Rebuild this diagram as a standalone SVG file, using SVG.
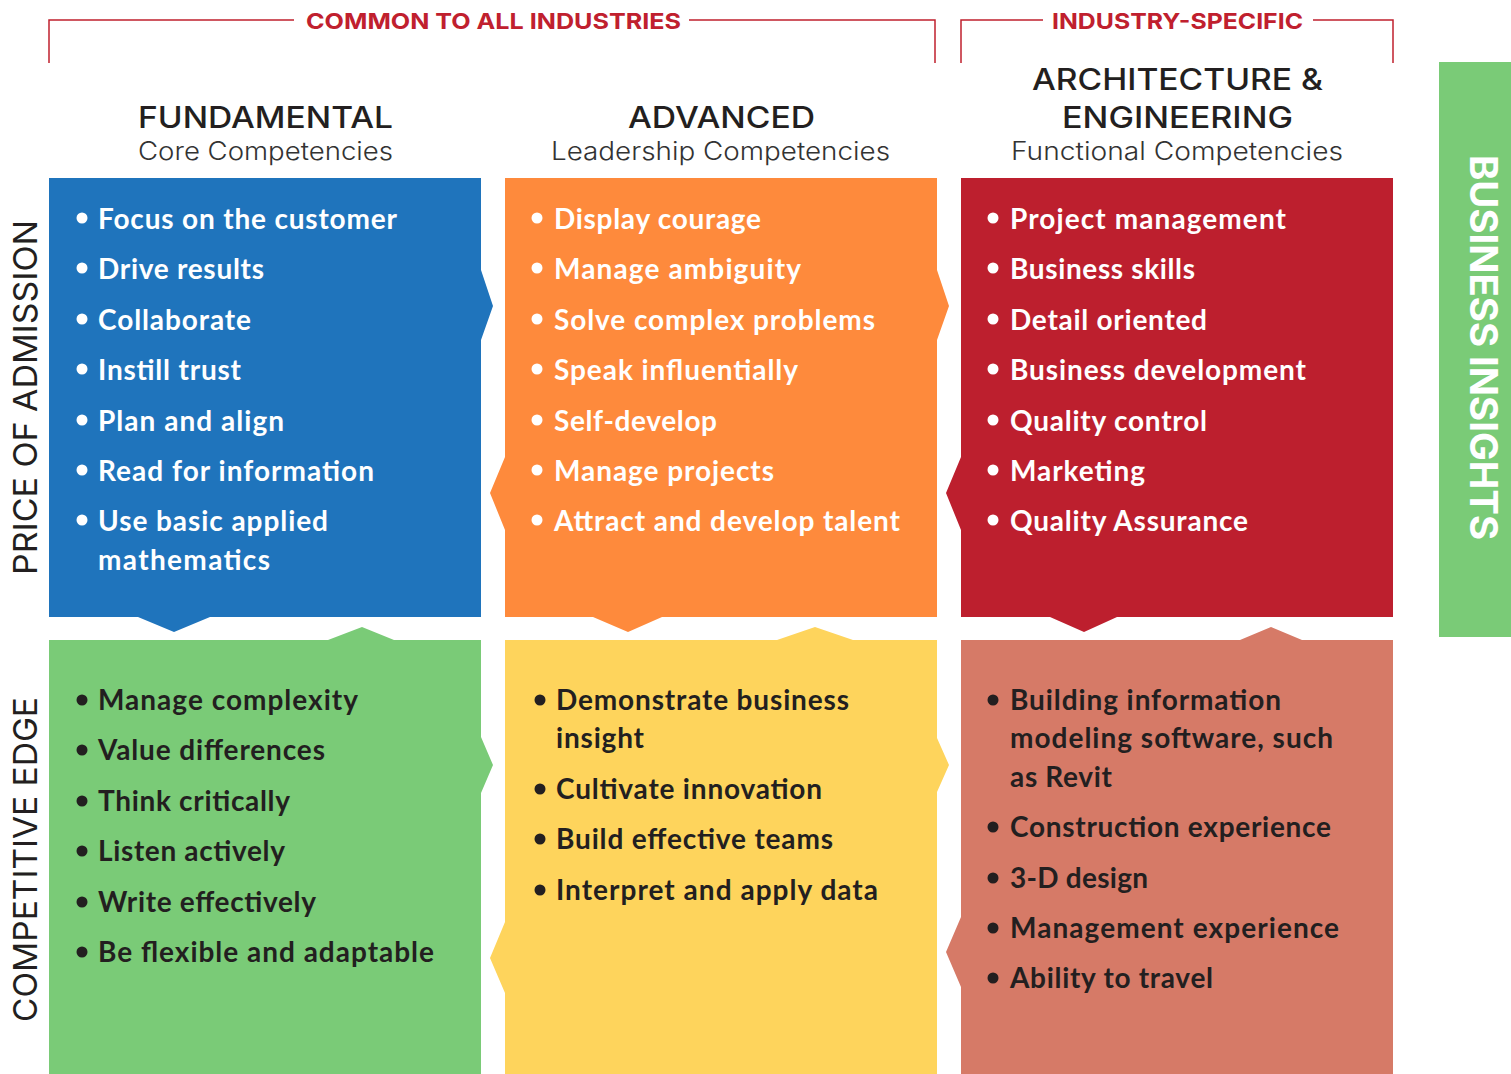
<svg xmlns="http://www.w3.org/2000/svg" width="1511" height="1074" viewBox="0 0 1511 1074">
<style>
.br{fill:none;stroke:#c0202e;stroke-width:1.5}
.brt{font-family:Inter,"Liberation Sans",sans-serif;font-weight:700;font-size:22px;fill:#c0202e}
.h{font-family:Inter,"Liberation Sans",sans-serif;font-weight:500;font-size:30px;fill:#231f20;text-anchor:middle}
.s{font-family:Inter,"Liberation Sans",sans-serif;font-weight:300;font-size:25px;fill:#333333;text-anchor:middle}
.side{font-family:Inter,"Liberation Sans",sans-serif;font-weight:400;font-size:33px;fill:#231f20;text-anchor:middle}
.bi{font-family:Inter,"Liberation Sans",sans-serif;font-weight:700;font-size:38px;fill:#ffffff;text-anchor:middle}
.t{font-family:Lato,"Open Sans",sans-serif;font-weight:700;font-size:28px}
.w{fill:#ffffff}
.d{fill:#231f20}
</style>
<g id="brackets">
<path class="br" d="M49,63 V20 H294 M689,20 H935 V63"/>
<path class="br" d="M961,63 V20 H1043 M1313,20 H1393 V63"/>
<text class="brt" x="306" y="29" textLength="375" lengthAdjust="spacingAndGlyphs">COMMON TO ALL INDUSTRIES</text>
<text class="brt" x="1052" y="29" textLength="251" lengthAdjust="spacingAndGlyphs">INDUSTRY-SPECIFIC</text>
</g>
<g id="headers">
<text class="h" x="265.5" y="128" textLength="255" lengthAdjust="spacingAndGlyphs">FUNDAMENTAL</text>
<text class="s" x="265.5" y="160" textLength="255" lengthAdjust="spacingAndGlyphs">Core Competencies</text>
<text class="h" x="721.5" y="128" textLength="187" lengthAdjust="spacingAndGlyphs">ADVANCED</text>
<text class="s" x="720.5" y="160" textLength="339" lengthAdjust="spacingAndGlyphs">Leadership Competencies</text>
<text class="h" x="1177.5" y="90" textLength="291" lengthAdjust="spacingAndGlyphs">ARCHITECTURE &amp;</text>
<text class="h" x="1177.5" y="128" textLength="231" lengthAdjust="spacingAndGlyphs">ENGINEERING</text>
<text class="s" x="1177" y="160" textLength="332" lengthAdjust="spacingAndGlyphs">Functional Competencies</text>
</g>
<g id="side-labels">
<text class="side" transform="translate(37,397.5) rotate(-90)" textLength="355" lengthAdjust="spacingAndGlyphs">PRICE OF ADMISSION</text>
<text class="side" transform="translate(37,859.5) rotate(-90)" textLength="325" lengthAdjust="spacingAndGlyphs">COMPETITIVE EDGE</text>
</g>
<g id="business-insights">
<rect x="1439" y="62" width="72" height="575" fill="#7acb77"/>
<text class="bi" transform="translate(1470,347.5) rotate(90)" textLength="385" lengthAdjust="spacingAndGlyphs">BUSINESS INSIGHTS</text>
</g>
<g id="fundamental-core">
<path fill="#1f74bc" d="M49,178 H481 V270 L493,306 L481,340 V617 H210 L174,632 L138,617 H49 Z"/>
<g class="w">
<circle cx="82" cy="218" r="5.5"/><circle cx="82" cy="268" r="5.5"/><circle cx="82" cy="319" r="5.5"/><circle cx="82" cy="369" r="5.5"/><circle cx="82" cy="420" r="5.5"/><circle cx="82" cy="470" r="5.5"/><circle cx="82" cy="520" r="5.5"/>
</g>
<g class="t w">
<text x="98" y="229" textLength="299">Focus on the customer</text>
<text x="98" y="279" textLength="166">Drive results</text>
<text x="98" y="330" textLength="153">Collaborate</text>
<text x="98" y="380" textLength="143">Instill trust</text>
<text x="98" y="431" textLength="186">Plan and align</text>
<text x="98" y="481" textLength="276">Read for information</text>
<text x="98" y="531" textLength="230">Use basic applied</text>
<text x="98" y="570" textLength="172">mathematics</text>
</g>
</g>
<g id="advanced-leadership">
<path fill="#fe8a3c" d="M505,178 H937 V270 L949,306 L937,340 V617 H662 L628,632 L593,617 H505 V530 L490,493 L505,457 Z"/>
<g class="w">
<circle cx="537" cy="218" r="5.5"/><circle cx="537" cy="268" r="5.5"/><circle cx="537" cy="319" r="5.5"/><circle cx="537" cy="369" r="5.5"/><circle cx="537" cy="420" r="5.5"/><circle cx="537" cy="470" r="5.5"/><circle cx="537" cy="520" r="5.5"/>
</g>
<g class="t w">
<text x="554" y="229" textLength="207">Display courage</text>
<text x="554" y="279" textLength="247">Manage ambiguity</text>
<text x="554" y="330" textLength="321">Solve complex problems</text>
<text x="554" y="380" textLength="244">Speak influentially</text>
<text x="554" y="431" textLength="163">Self-develop</text>
<text x="554" y="481" textLength="220">Manage projects</text>
<text x="554" y="531" textLength="346">Attract and develop talent</text>
</g>
</g>
<g id="industry-functional">
<path fill="#bd1f2e" d="M961,178 H1393 V617 H1117 L1084,632 L1050,617 H961 V530 L946,493 L961,457 Z"/>
<g class="w">
<circle cx="993" cy="218" r="5.5"/><circle cx="993" cy="268" r="5.5"/><circle cx="993" cy="319" r="5.5"/><circle cx="993" cy="369" r="5.5"/><circle cx="993" cy="420" r="5.5"/><circle cx="993" cy="470" r="5.5"/><circle cx="993" cy="520" r="5.5"/>
</g>
<g class="t w">
<text x="1010" y="229" textLength="276">Project management</text>
<text x="1010" y="279" textLength="185">Business skills</text>
<text x="1010" y="330" textLength="197">Detail oriented</text>
<text x="1010" y="380" textLength="296">Business development</text>
<text x="1010" y="431" textLength="197">Quality control</text>
<text x="1010" y="481" textLength="135">Marketing</text>
<text x="1010" y="531" textLength="238">Quality Assurance</text>
</g>
</g>
<g id="fundamental-edge">
<path fill="#7acb77" d="M49,640 H328 L362,627 L394,640 H481 V737 L493,765 L481,793 V1074 H49 Z"/>
<g class="d">
<circle cx="82" cy="700" r="5.5"/><circle cx="82" cy="750" r="5.5"/><circle cx="82" cy="801" r="5.5"/><circle cx="82" cy="851" r="5.5"/><circle cx="82" cy="902" r="5.5"/><circle cx="82" cy="952" r="5.5"/>
</g>
<g class="t d">
<text x="98" y="710" textLength="260">Manage complexity</text>
<text x="98" y="760" textLength="227">Value differences</text>
<text x="98" y="811" textLength="192">Think critically</text>
<text x="98" y="861" textLength="187">Listen actively</text>
<text x="98" y="912" textLength="218">Write effectively</text>
<text x="98" y="962" textLength="336">Be flexible and adaptable</text>
</g>
</g>
<g id="advanced-edge">
<path fill="#fed45c" d="M505,640 H777 L815,627 L853,640 H937 V738 L949,765 L937,792 V1074 H505 V993 L490,958 L505,922 Z"/>
<g class="d">
<circle cx="540" cy="700" r="5.5"/><circle cx="540" cy="789" r="5.5"/><circle cx="540" cy="839" r="5.5"/><circle cx="540" cy="890" r="5.5"/>
</g>
<g class="t d">
<text x="556" y="710" textLength="293">Demonstrate business</text>
<text x="556" y="748" textLength="88">insight</text>
<text x="556" y="799" textLength="266">Cultivate innovation</text>
<text x="556" y="849" textLength="277">Build effective teams</text>
<text x="556" y="900" textLength="322">Interpret and apply data</text>
</g>
</g>
<g id="industry-edge">
<path fill="#d67a67" d="M961,640 H1240 L1271,627 L1302,640 H1393 V1074 H961 V987 L946,952 L961,917 Z"/>
<g class="d">
<circle cx="993" cy="700" r="5.5"/><circle cx="993" cy="827" r="5.5"/><circle cx="993" cy="878" r="5.5"/><circle cx="993" cy="928" r="5.5"/><circle cx="993" cy="978" r="5.5"/>
</g>
<g class="t d">
<text x="1010" y="710" textLength="271">Building information</text>
<text x="1010" y="748" textLength="323">modeling software, such</text>
<text x="1010" y="787" textLength="102">as Revit</text>
<text x="1010" y="837" textLength="321">Construction experience</text>
<text x="1010" y="888" textLength="138">3-D design</text>
<text x="1010" y="938" textLength="329">Management experience</text>
<text x="1010" y="988" textLength="203">Ability to travel</text>
</g>
</g>
</svg>
